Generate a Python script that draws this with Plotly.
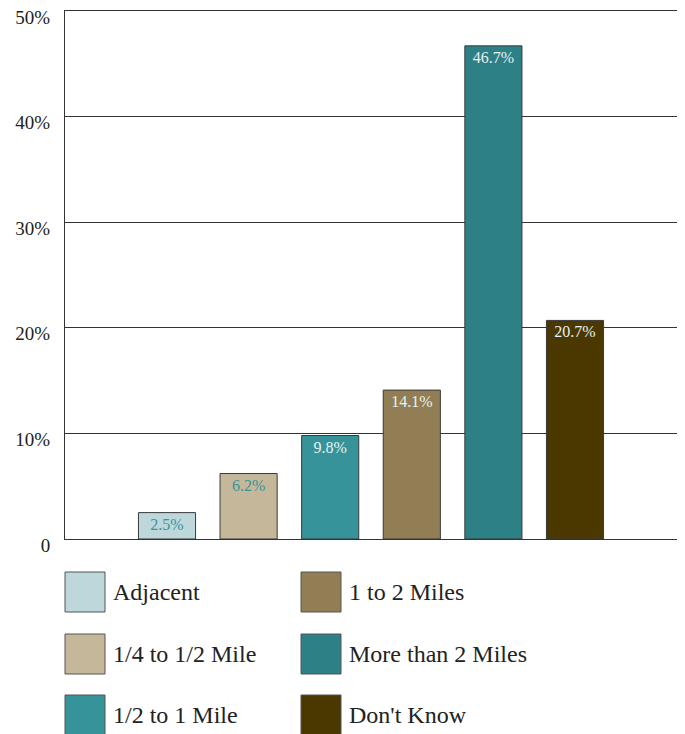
import plotly.graph_objects as go

categories = ["Adjacent", "1/4 to 1/2 Mile", "1/2 to 1 Mile", "1 to 2 Miles", "More than 2 Miles", "Don't Know"]
values = [2.5, 6.2, 9.8, 14.1, 46.7, 20.7]
colors = ["#BDD7DA", "#C5B89A", "#37939A", "#927E54", "#2E8087", "#4A3800"]
label_colors = ["#37939A", "#37939A", "#E6F2F2", "#E6F2F2", "#E6F2F2", "#E6F2F2"]
y_tickvals = [0, 10, 20, 30, 40, 50]
y_ticktext = ["0", "10%", "20%", "30%", "40%", "50%"]

FONT = "Liberation Serif"
W, H = 685, 734
ML, MR, MT, MB = 65, 8, 11, 195
PW, PH = W - ML - MR, H - MT - MB

fig = go.Figure()
for cat, val, col, lc in zip(categories, values, colors, label_colors):
    fig.add_trace(go.Bar(
        x=["all"], y=[val], name=cat,
        marker=dict(color=col, line=dict(color="#3a3a3a", width=1)),
        text=[f"{val}%"], textposition="inside", insidetextanchor="end",
        textfont=dict(family=FONT, size=16, color=lc),
        textangle=0, showlegend=False, hoverinfo="skip",
    ))

# custom legend (2 columns x 3 rows)
def px_to_paper_x(px):
    return (px - ML) / PW

def px_to_paper_y(py):
    return (H - MB - py) / PH

col_x = [65, 301]
row_y = [572, 634, 695]
sw = 40
for i, (cat, col) in enumerate(zip(categories, colors)):
    c, r = divmod(i, 3)
    x0, y0 = col_x[c], row_y[r]
    fig.add_shape(type="rect", xref="paper", yref="paper",
                  x0=px_to_paper_x(x0), x1=px_to_paper_x(x0 + sw),
                  y0=px_to_paper_y(y0), y1=px_to_paper_y(y0 + sw),
                  fillcolor=col, line=dict(color="#555555", width=1))
    fig.add_annotation(xref="paper", yref="paper",
                       x=px_to_paper_x(x0 + sw + 6), y=px_to_paper_y(y0 + sw / 2),
                       text=cat, showarrow=False, xanchor="left", yanchor="middle",
                       font=dict(family=FONT, size=24, color="#222222"))

fig.update_layout(
    width=W, height=H,
    margin=dict(l=ML, r=MR, t=MT, b=MB, autoexpand=False),
    paper_bgcolor="white", plot_bgcolor="white",
    barmode="group", bargap=0.2, bargroupgap=0.3,
    font=dict(family=FONT, color="#222222"),
    xaxis=dict(type="category", showticklabels=False, showgrid=False,
               showline=True, linecolor="#333333", linewidth=1, mirror=True,
               ticks="inside", tickson="boundaries", ticklen=13,
               tickcolor="#333333", tickwidth=1, fixedrange=True, automargin=False),
    yaxis=dict(range=[0, 50], tickvals=y_tickvals, ticktext=y_ticktext,
               showgrid=True, gridcolor="#333333", gridwidth=1,
               showline=True, linecolor="#333333", linewidth=1,
               ticks="", ticklabelstandoff=10, ticklabelshift=6, automargin=False,
               tickfont=dict(family=FONT, size=19, color="#222222"),
               zeroline=False, fixedrange=True),
)

fig.write_html("out.html")
